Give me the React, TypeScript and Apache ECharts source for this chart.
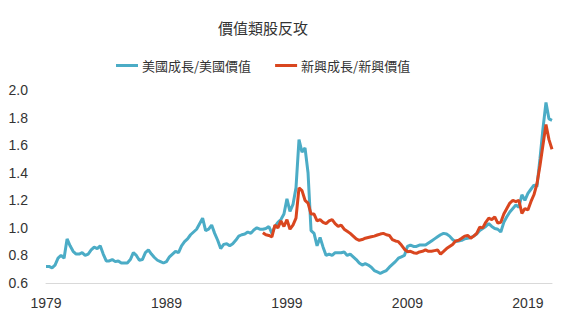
import React, { useEffect, useRef } from "react";
import * as echarts from "echarts";

// Quarterly observations, 1979Q1 .. 2021Q1
const startYear = 1979;
const quarterCount = 169;

const usGrowthOverValue = [
  0.72, 0.72, 0.71, 0.73, 0.78, 0.80, 0.78, 0.92, 0.87, 0.83,
  0.81, 0.81, 0.82, 0.80, 0.81, 0.84, 0.86, 0.85, 0.87, 0.81,
  0.76, 0.76, 0.77, 0.755, 0.76, 0.745, 0.745, 0.745, 0.77, 0.82,
  0.80, 0.765, 0.77, 0.82, 0.84, 0.81, 0.785, 0.765, 0.755, 0.745,
  0.755, 0.79, 0.81, 0.83, 0.82, 0.87, 0.90, 0.92, 0.95, 0.97,
  0.99, 1.03, 1.07, 0.98, 0.99, 1.02, 0.96, 0.91, 0.85, 0.88,
  0.885, 0.87, 0.885, 0.91, 0.94, 0.95, 0.955, 0.97, 0.96, 0.985,
  1.0, 0.99, 0.99, 0.995, 1.01, 0.96, 1.01, 1.04, 1.06, 1.10,
  1.21, 1.12, 1.17, 1.29, 1.64, 1.55, 1.58, 1.40, 0.98, 0.96,
  0.87, 0.93, 0.86, 0.80, 0.81, 0.80, 0.82, 0.82, 0.82, 0.825,
  0.80, 0.81, 0.79, 0.77, 0.745, 0.73, 0.74, 0.73, 0.715, 0.69,
  0.68, 0.67, 0.68, 0.69, 0.715, 0.735, 0.755, 0.78, 0.79, 0.80,
  0.865, 0.875, 0.865, 0.865, 0.875, 0.875, 0.875, 0.89, 0.905, 0.92,
  0.935, 0.95, 0.96, 0.955, 0.94, 0.915, 0.90, 0.905, 0.91, 0.92,
  0.925, 0.93, 0.94, 0.955, 0.98, 0.995, 1.01, 1.03, 1.01, 0.995,
  0.99, 0.97, 1.04, 1.08, 1.115, 1.14, 1.165, 1.15, 1.24, 1.20,
  1.25, 1.28, 1.31, 1.30, 1.50, 1.72, 1.91, 1.79, 1.78,
];

// Emerging growth / emerging value, starting 1997Q1
const emStartYear = 1997;
const emGrowthOverValue = [
  0.965, 0.95, 0.945, 0.935, 1.02, 1.0, 1.05, 1.01,
  1.06, 0.99, 1.02, 1.07, 1.29, 1.27, 1.20, 1.18, 1.10, 1.10,
  1.05, 1.06, 1.04, 1.03, 1.05, 1.06, 1.03, 1.01, 1.02, 0.99,
  0.975, 0.96, 0.94, 0.92, 0.91, 0.915, 0.925, 0.93, 0.935, 0.94,
  0.948, 0.955, 0.96, 0.95, 0.945, 0.915, 0.905, 0.90, 0.875, 0.845,
  0.827, 0.83, 0.82, 0.815, 0.825, 0.83, 0.84, 0.83, 0.83, 0.835,
  0.84, 0.81, 0.83, 0.85, 0.865, 0.88, 0.905, 0.91, 0.924, 0.94,
  0.945, 0.925, 0.94, 0.96, 1.005, 1.0, 1.04, 1.07, 1.06, 1.08,
  1.035, 1.04, 1.10, 1.14, 1.18, 1.20, 1.19, 1.20, 1.105, 1.14,
  1.13, 1.19, 1.24, 1.32, 1.45, 1.60, 1.75, 1.64, 1.57,
];

const titleText = "價值類股反攻";
const seriesNames = ["美國成長/美國價值", "新興成長/新興價值"];
const yTicks = [0.6, 0.8, 1.0, 1.2, 1.4, 1.6, 1.8, 2.0];

export default function App() {
  const ref = useRef<HTMLDivElement>(null);

  useEffect(() => {
    if (!ref.current) return;
    const chart = echarts.init(ref.current, null, { renderer: "svg" });

    const categories: string[] = [];
    for (let i = 0; i < quarterCount; i++) {
      categories.push(`${startYear + Math.floor(i / 4)}Q${(i % 4) + 1}`);
    }
    const emOffset = (emStartYear - startYear) * 4;
    const emData: (number | null)[] = [];
    for (let i = 0; i < quarterCount; i++) {
      const j = i - emOffset;
      emData.push(j >= 0 && j < emGrowthOverValue.length ? emGrowthOverValue[j] : null);
    }

    const font = "'Liberation Sans', 'Noto Sans CJK TC', sans-serif";
    const cjkFont = "'Noto Sans CJK TC', sans-serif";

    chart.setOption({
      animation: false,
      backgroundColor: "#ffffff",
      title: {
        text: titleText,
        left: 213,
        top: 15,
        textStyle: {
          fontFamily: cjkFont,
          fontSize: 15,
          fontWeight: "normal",
          color: "#333333",
        },
      },
      legend: {
        left: 111,
        top: 54,
        itemWidth: 22,
        itemHeight: 3,
        itemGap: 24,
        icon: "rect",
        textStyle: {
          fontFamily: cjkFont,
          fontSize: 13,
          color: "#333333",
          padding: [0, 0, 0, -1],
        },
        data: seriesNames,
      },
      grid: {
        left: 46,
        right: 16,
        top: 90,
        bottom: 38,
        containLabel: false,
      },
      xAxis: {
        type: "category",
        boundaryGap: false,
        data: categories,
        axisLine: { show: true, lineStyle: { color: "#d9d9d9", width: 1 } },
        axisTick: { show: false },
        splitLine: { show: false },
        axisLabel: {
          interval: 39,
          margin: 13,
          fontFamily: font,
          fontSize: 14,
          color: "#333333",
          formatter: (v: string) => v.slice(0, 4),
        },
      },
      yAxis: {
        type: "value",
        min: yTicks[0],
        max: yTicks[yTicks.length - 1],
        interval: 0.2,
        axisLine: { show: false },
        axisTick: { show: false },
        splitLine: { show: false },
        axisLabel: {
          margin: 18,
          fontFamily: font,
          fontSize: 14,
          color: "#333333",
          formatter: (v: number) => v.toFixed(1),
        },
      },
      series: [
        {
          name: seriesNames[0],
          type: "line",
          data: usGrowthOverValue,
          symbol: "none",
          color: "#4BACC6",
          lineStyle: { color: "#4BACC6", width: 3 },
          z: 2,
        },
        {
          name: seriesNames[1],
          type: "line",
          data: emData,
          symbol: "none",
          connectNulls: false,
          color: "#D9461F",
          lineStyle: { color: "#D9461F", width: 3 },
          z: 3,
        },
      ],
    });

    return () => chart.dispose();
  }, []);

  return (
    <div
      ref={ref}
      style={{ position: "fixed", left: 0, top: 0, width: 568, height: 321 }}
    />
  );
}
